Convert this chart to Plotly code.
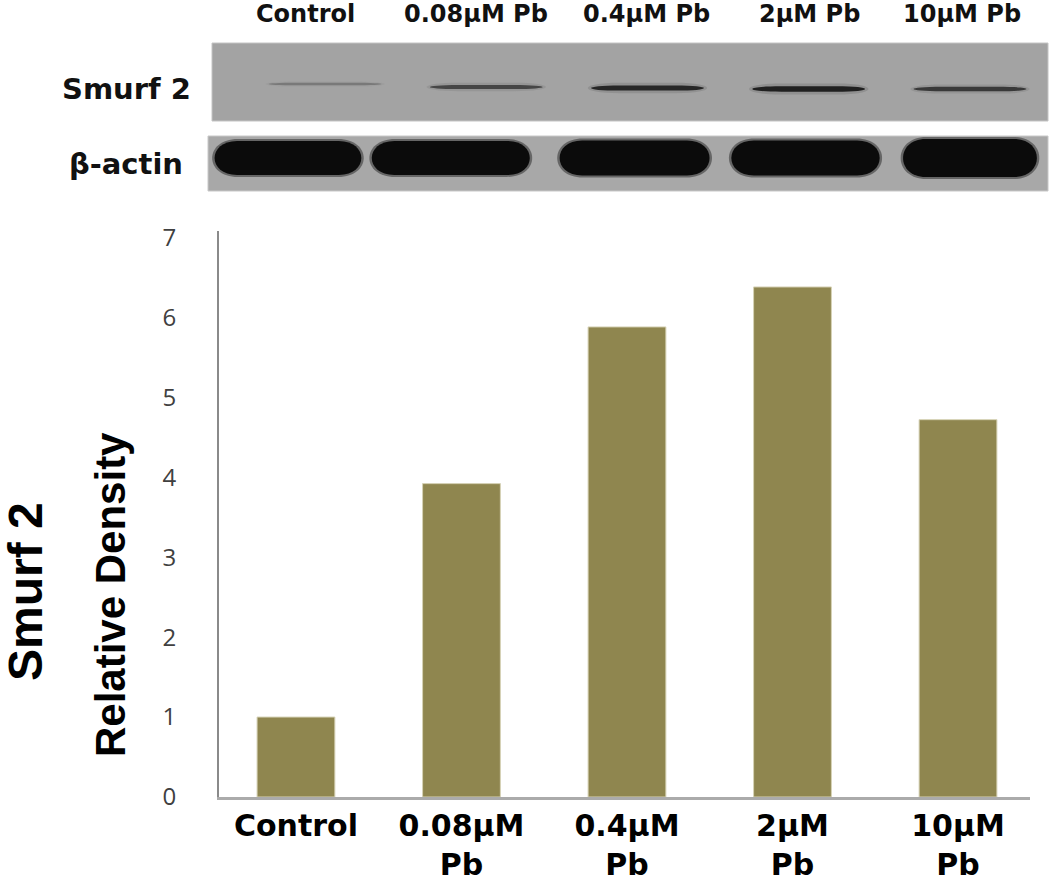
import plotly.graph_objects as go

# ---------------- data ----------------
categories = ["Control", "0.08μM<br>Pb", "0.4μM<br>Pb", "2μM<br>Pb", "10μM<br>Pb"]
lane_labels = ["Control", "0.08μM Pb", "0.4μM Pb", "2μM Pb", "10μM Pb"]
density = [1.0, 3.92, 5.88, 6.38, 4.72]
y_ticks = [0, 1, 2, 3, 4, 5, 6, 7]
blot_rows = ["Smurf 2", "β-actin"]

# ---------------- layout helpers ----------------
W, H = 1050, 883


def px(x):
    return x / W


def py(y):
    return 1 - y / H


def capsule(x0, x1, top, bot, r):
    k = 4.0 * r / 3.0
    return (f"M {x0 + r},{top} L {x1 - r},{top} "
            f"C {x1 - r + k},{top} {x1 - r + k},{bot} {x1 - r},{bot} "
            f"L {x0 + r},{bot} "
            f"C {x0 + r - k},{bot} {x0 + r - k},{top} {x0 + r},{top} Z")


fig = go.Figure()

fig.add_trace(go.Bar(
    x=list(range(len(categories))),
    y=density,
    width=0.47,
    marker=dict(color="#8F864F", line=dict(color="#d6d2b6", width=1)),
    hoverinfo="skip",
    showlegend=False,
))

# invisible trace to activate blot axes
fig.add_trace(go.Scatter(x=[0], y=[100], xaxis="x2", yaxis="y2",
                         mode="markers", marker=dict(opacity=0),
                         showlegend=False, hoverinfo="skip"))

shapes = []
# blot panels (paper coords)
shapes.append(dict(type="rect", xref="paper", yref="paper",
                   x0=px(212), x1=px(1048), y0=py(121), y1=py(43),
                   fillcolor="#a3a3a3", line=dict(color="#c4c4c4", width=1), layer="below"))
shapes.append(dict(type="rect", xref="paper", yref="paper",
                   x0=px(208), x1=px(1048), y0=py(191), y1=py(136),
                   fillcolor="#a8a8a8", line=dict(color="#c8c8c8", width=1), layer="below"))

# Smurf 2 bands: darkness & thickness follow the measured density
dmax = max(density)
smurf_yc = [84, 87, 88, 89, 89]
for i, v in enumerate(density):
    f = v / dmax
    h = 2.0 + 3.5 * f
    op = 0.15 + 0.8 * f
    yc = smurf_yc[i]
    # halo
    shapes.append(dict(type="path", xref="x2", yref="y2",
                       path=capsule(i - 0.37, i + 0.37, yc - h, yc + h, 0.2),
                       fillcolor="#555555", opacity=op * 0.25, line=dict(width=0)))
    shapes.append(dict(type="path", xref="x2", yref="y2",
                       path=capsule(i - 0.35, i + 0.35, yc - h / 2, yc + h / 2, 0.18),
                       fillcolor="#1a1a1a", opacity=op, line=dict(width=0)))

# beta-actin bands (lane centre offsets / half widths in lane units)
actin_centers = [-0.23, 0.78, 1.92, 2.98, 4.0]
actin_half = [0.455, 0.49, 0.465, 0.46, 0.415]
actin_h = [34, 34, 35, 35, 38]
for c, hw, hh in zip(actin_centers, actin_half, actin_h):
    shapes.append(dict(type="path", xref="x2", yref="y2",
                       path=capsule(c - hw - 0.015, c + hw + 0.015, 158 - hh / 2 - 2, 158 + hh / 2 + 2, 0.16),
                       fillcolor="#303030", opacity=0.55, line=dict(width=0)))
    shapes.append(dict(type="path", xref="x2", yref="y2",
                       path=capsule(c - hw, c + hw, 158 - hh / 2, 158 + hh / 2, 0.14),
                       fillcolor="#0b0b0b", line=dict(width=0)))

annotations = []
lane_label_x = [305, 476, 646, 809, 962]
for lbl, x in zip(lane_labels, lane_label_x):
    annotations.append(dict(text=lbl, x=px(x), y=py(14), xref="paper", yref="paper",
                            showarrow=False, xanchor="center", yanchor="middle",
                            font=dict(family="DejaVu Sans", size=24, color="#111", weight="bold")))
row_label_y = [89, 164]
for lbl, y in zip(blot_rows, row_label_y):
    annotations.append(dict(text=lbl, x=px(126), y=py(y), xref="paper", yref="paper",
                            showarrow=False, xanchor="center", yanchor="middle",
                            font=dict(family="DejaVu Sans", size=29, color="#111", weight="bold")))

annotations.append(dict(text="Smurf 2", x=px(25), y=py(592), xref="paper", yref="paper",
                        showarrow=False, textangle=-90, xanchor="center", yanchor="middle",
                        font=dict(family="Liberation Sans", size=48, color="black", weight="bold")))
annotations.append(dict(text="Relative Density", x=px(110), y=py(595), xref="paper", yref="paper",
                        showarrow=False, textangle=-90, xanchor="center", yanchor="middle",
                        font=dict(family="Liberation Sans", size=42, color="black", weight="bold")))

fig.update_layout(
    width=W, height=H,
    margin=dict(l=0, r=0, t=0, b=0, autoexpand=False),
    paper_bgcolor="white", plot_bgcolor="white",
    showlegend=False,
    hovermode=False,
    xaxis=dict(domain=[px(219), px(1030)], range=[-0.465, 4.435], automargin=False,
               tickmode="array", tickvals=list(range(len(categories))), ticktext=categories,
               showline=True, linecolor="#ababab", linewidth=3,
               ticks="", ticklen=0,
               showgrid=False, zeroline=False,
               tickfont=dict(family="DejaVu Sans", size=30, color="black", weight="bold")),
    yaxis=dict(domain=[py(797), py(231)], range=[0, 7.08], automargin=False,
               tickmode="array", tickvals=y_ticks,
               showline=True, linecolor="#8a8a8a", linewidth=2,
               ticks="outside", ticklen=36, tickcolor="rgba(0,0,0,0)",
               showgrid=False, zeroline=False,
               tickfont=dict(family="Open Sans", size=24, color="#404040")),
    xaxis2=dict(domain=[px(207), px(1048)], range=[-0.732, 4.484], anchor="y2",
                visible=False, fixedrange=True, automargin=False),
    yaxis2=dict(domain=[py(192), py(42)], range=[192, 42], anchor="x2",
                visible=False, fixedrange=True, automargin=False),
    shapes=shapes,
    annotations=annotations,
)

# remove the default 8px page margin so the figure fills the window exactly
fig.write_html("out.html",
               config={"displayModeBar": False, "staticPlot": True},
               post_script="document.body.style.margin='0px';document.body.style.overflow='hidden';")
